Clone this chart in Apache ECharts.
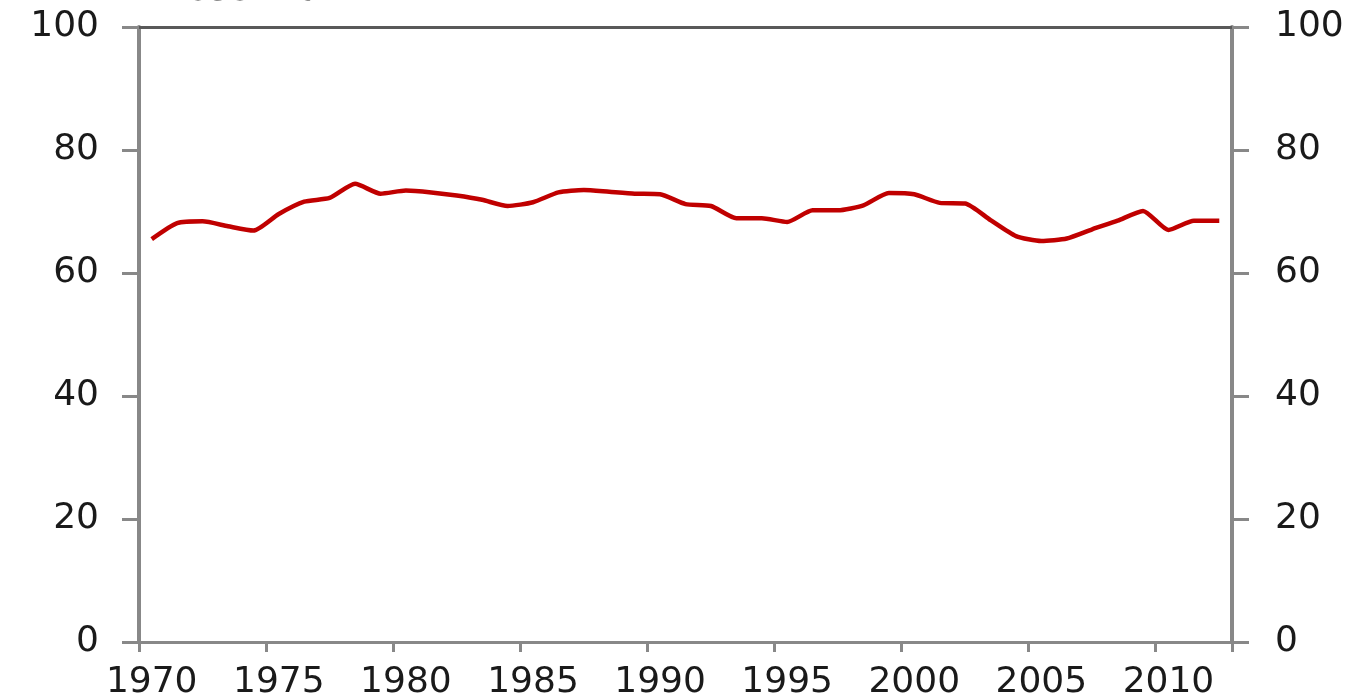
<!DOCTYPE html>
<html>
<head>
<meta charset="utf-8">
<script src="https://cdn.jsdelivr.net/npm/echarts@6/dist/echarts.min.js"></script>
<style>
html,body{margin:0;padding:0;background:#fff;}
#chart{width:1365px;height:694px;}
</style>
</head>
<body>
<div id="chart"></div>
<script>
const years = ['1970','1971','1972','1973','1974','1975','1976','1977','1978','1979',
  '1980','1981','1982','1983','1984','1985','1986','1987','1988','1989',
  '1990','1991','1992','1993','1994','1995','1996','1997','1998','1999',
  '2000','2001','2002','2003','2004','2005','2006','2007','2008','2009',
  '2010','2011','2012'];
const values = [65.5, 68.1, 68.4, 67.6, 66.9, 69.6, 71.6, 72.2, 74.5, 72.9,
  73.4, 73.1, 72.6, 71.9, 70.9, 71.5, 73.1, 73.5, 73.2, 72.9,
  72.8, 71.2, 70.9, 68.9, 68.9, 68.3, 70.2, 70.2, 71.0, 73.0,
  72.8, 71.4, 71.3, 68.6, 66.0, 65.2, 65.6, 67.1, 68.5, 70.1,
  67.0, 68.5, 68.5];
const yMin = 0, yMax = 100, yStep = 20;
const titleText = 'Prosent av BNP';

const axisGrey = '#888888';
const labelFont = { color: '#1a1a1a', fontSize: 36, fontFamily: 'DejaVu Sans' };

const chart = echarts.init(document.getElementById('chart'), null, { renderer: 'canvas' });
chart.setOption({
  animation: false,
  backgroundColor: '#ffffff',
  grid: { left: 139, right: 133, top: 27, bottom: 52, containLabel: false, outerBoundsMode: 'none' },
  graphic: [{
    type: 'text',
    style: { x: 152, y: 9, text: titleText, verticalAlign: 'bottom',
      font: '36px "DejaVu Sans"', fill: '#1a1a1a' }
  }],
  xAxis: [{
    type: 'category',
    data: years,
    boundaryGap: true,
    axisLine: { onZero: false, lineStyle: { color: axisGrey, width: 3 } },
    axisTick: { show: true, interval: 4, length: 10, lineStyle: { color: axisGrey, width: 3 } },
    axisLabel: Object.assign({ interval: 4, margin: 23 }, labelFont),
    splitLine: { show: false }
  }, {
    type: 'category',
    data: years,
    position: 'top',
    boundaryGap: true,
    axisLine: { show: true, onZero: false, lineStyle: { color: '#595959', width: 3 } },
    axisTick: { show: false },
    axisLabel: { show: false },
    splitLine: { show: false }
  }],
  yAxis: [{
    type: 'value', min: yMin, max: yMax, interval: yStep, position: 'left',
    axisLine: { show: true, lineStyle: { color: axisGrey, width: 4 } },
    axisTick: { show: true, length: 17, lineStyle: { color: axisGrey, width: 3 } },
    axisLabel: Object.assign({ margin: 40 }, labelFont),
    splitLine: { show: false }
  }, {
    type: 'value', min: yMin, max: yMax, interval: yStep, position: 'right',
    axisLine: { show: true, lineStyle: { color: axisGrey, width: 4 } },
    axisTick: { show: true, length: 17, lineStyle: { color: axisGrey, width: 3 } },
    axisLabel: Object.assign({ margin: 43 }, labelFont),
    splitLine: { show: false }
  }],
  series: [{
    type: 'line',
    xAxisIndex: 0,
    yAxisIndex: 0,
    data: values,
    smooth: 0.2,
    showSymbol: false,
    lineStyle: { color: '#C00000', width: 4.5 },
    itemStyle: { color: '#C00000' }
  }]
});
</script>
</body>
</html>
